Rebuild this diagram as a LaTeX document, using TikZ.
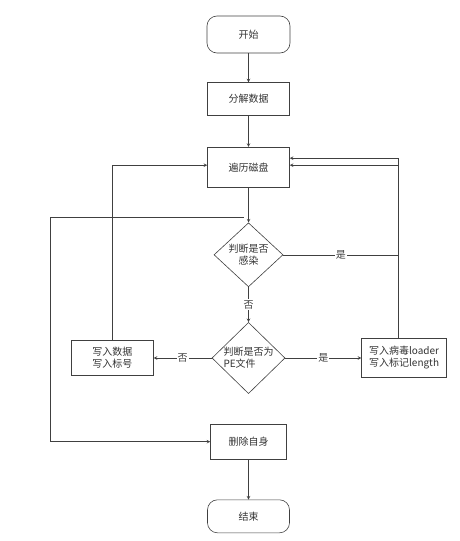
\documentclass[tikz,border=0pt]{standalone}
\usepackage{fontspec}
\setmainfont{Noto Sans CJK SC}
\usetikzlibrary{arrows,positioning,shapes.geometric}

\begin{document}
\begin{tikzpicture}[
    x=1pt, y=1pt,
    node distance=30pt and 60pt,
    font=\fontsize{10}{12}\selectfont, text=black!80,
    box/.style={draw=black!75, line width=0.6pt, align=center, inner sep=2pt},
    term/.style={box, rounded corners=10pt, minimum width=83pt, minimum height=35pt},
    proc/.style={box, minimum width=82pt, minimum height=36pt},
    judge/.style={box, diamond, inner sep=0pt, minimum width=71pt, minimum height=65pt},
    lbl/.style={fill=white, inner sep=1pt},
    every path/.style={>=stealth}]
    \useasboundingbox (0,0) rectangle (460,-541);
    \node[term, minimum height=37pt] (start) at (248.5,-34.5) {开始};
    \node[proc, below=29pt of start, minimum height=33pt] (split) {分解数据};
    \node[proc, below=31pt of split, minimum height=40pt] (scan) {遍历磁盘};
    \node[judge, below=35pt of scan, minimum width=69pt, minimum height=64pt] (infected) {判断是否\\感染};
    \node[judge, below=35pt of infected, minimum width=73pt, minimum height=66pt, align=left] (ispe) {判断是否为\\PE文件};
    \node[proc, left=58pt of ispe, minimum height=35pt] (mark) {写入数据\\写入标号};
    \node[proc, right=76pt of ispe, minimum width=85pt, minimum height=39pt] (inject) {写入病毒loader\\写入标记length};
    \node[proc, below=30pt of ispe, minimum width=76pt, minimum height=35pt] (delself) {删除自身};
    \node[term, below=40pt of delself, minimum width=82pt, minimum height=33pt] (finish) {结束};
    % flow down the middle
    \draw[->, black!75, line width=0.6pt] (start) -- (split);
    \draw[->, black!75, line width=0.6pt] (split) -- (scan);
    \draw[->, black!75, line width=0.6pt] (scan) -- (infected);
    \draw[->, black!75, line width=0.6pt] (infected) -- node[lbl]{否} (ispe);
    \draw[->, black!75, line width=0.6pt] (ispe) -- node[lbl]{否} (mark);
    \draw[->, black!75, line width=0.6pt] (ispe) -- node[lbl]{是} (inject);
    \draw[->, black!75, line width=0.6pt] (delself) -- (finish);
    % loops back to the scan
    \coordinate (up) at ([xshift=-5.5pt]inject.north);
    \draw[->, black!75, line width=0.6pt] (up) |- ([yshift=9pt]scan.east);
    \draw[->, black!75, line width=0.6pt] (infected.east) -- node[lbl]{是} (infected.east -| up) |- ([yshift=2pt]scan.east);
    \draw[->, black!75, line width=0.6pt] (mark.north) |- ([yshift=2pt]scan.west);
    % done: delete itself
    \coordinate (done) at ([xshift=-5pt, yshift=5pt]infected.north);
    \draw[->, black!75, line width=0.6pt] (done) -- ++(-193,0) |- (delself.west);
\end{tikzpicture}
\end{document}
